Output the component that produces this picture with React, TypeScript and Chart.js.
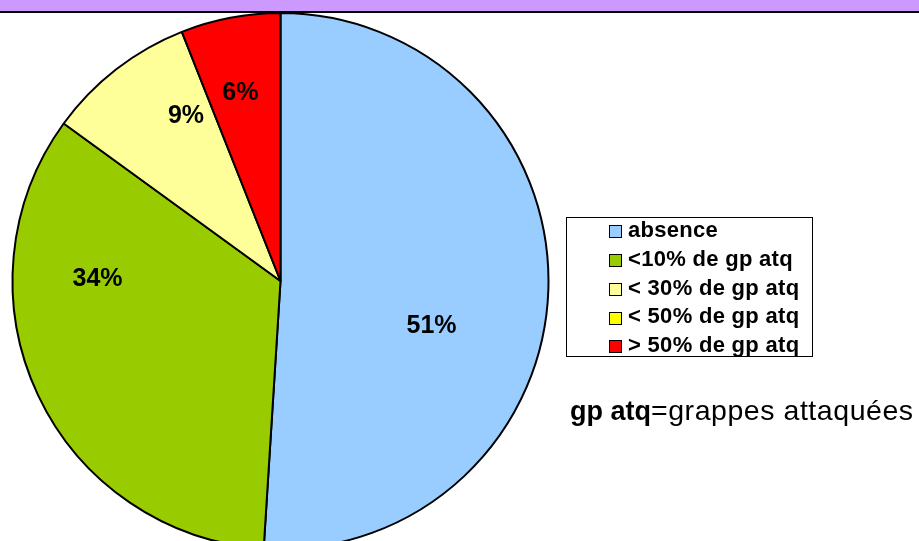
import React, { useEffect, useRef } from "react";
import { Chart, registerables } from "chart.js";

Chart.register(...registerables);

const categories = ["absence", "<10% de gp atq", "< 30% de gp atq", "< 50% de gp atq", "> 50% de gp atq"];
const values = [51, 34, 9, 0, 6];
const colors = ["#99CCFF", "#99CC00", "#FFFF99", "#FFFF00", "#FF0000"];
// label placement inside each slice (fraction along the arc, fraction of radius)
const labelAnglePos = [0.577, 0.716, 0.756, 0.5, 0.449];
const labelRadiusPos = [0.586, 0.683, 0.716, 0.7, 0.725];
const noteBold = "gp atq";
const noteRest = "=grappes attaquées";

const FONT = "'Liberation Sans', Arial, Helvetica, sans-serif";

const labelPlugin = {
  id: "sliceLabels",
  afterDatasetsDraw(chart: any) {
    const ctx = chart.ctx;
    const meta = chart.getDatasetMeta(0);
    const data = chart.data.datasets[0].data as number[];
    const total = data.reduce((a, b) => a + b, 0);
    ctx.save();
    ctx.font = `bold 25px ${FONT}`;
    ctx.fillStyle = "#000";
    ctx.textAlign = "center";
    ctx.textBaseline = "alphabetic";
    meta.data.forEach((arc: any, i: number) => {
      const v = data[i];
      if (!v) return;
      const { x, y, startAngle, endAngle, outerRadius } = arc.getProps(
        ["x", "y", "startAngle", "endAngle", "outerRadius"],
        true
      );
      const a = startAngle + (endAngle - startAngle) * labelAnglePos[i];
      const r = outerRadius * labelRadiusPos[i];
      const lx = x + r * Math.cos(a);
      const ly = y + r * Math.sin(a);
      const pct = Math.round((v / total) * 100) + "%";
      ctx.fillText(pct, lx, ly + 25 * 0.358);
    });
    ctx.restore();
  },
};

export default function App() {
  const ref = useRef<HTMLCanvasElement>(null);
  useEffect(() => {
    if (!ref.current) return;
    const chart = new Chart(ref.current, {
      type: "pie",
      data: {
        labels: categories,
        datasets: [
          {
            data: values,
            backgroundColor: colors,
            borderColor: "#000000",
            borderWidth: 2,
          },
        ],
      },
      options: {
        responsive: false,
        animation: false,
        layout: { padding: { left: 11, top: 12, right: 369, bottom: 50 } },
        plugins: {
          legend: { display: false },
          tooltip: { enabled: false },
          title: { display: false },
        },
      },
      plugins: [labelPlugin],
    });
    return () => chart.destroy();
  }, []);

  const rowH = 28.75;
  return (
    <div
      style={{
        position: "fixed",
        left: 0,
        top: 0,
        width: 919,
        height: 541,
        overflow: "hidden",
        background: "#fff",
        fontFamily: FONT,
      }}
    >
      <canvas
        ref={ref}
        width={919}
        height={600}
        style={{ position: "absolute", left: 0, top: 0, width: 919, height: 600 }}
      />
      <div
        style={{
          position: "absolute",
          left: 0,
          top: 0,
          width: 919,
          height: 11,
          background: "#CC99FF",
          borderBottom: "2px solid #000",
        }}
      />
      <div
        style={{
          position: "absolute",
          left: 566,
          top: 217,
          width: 245,
          height: 138,
          border: "1px solid #000",
          background: "#fff",
        }}
      >
        {categories.map((c, i) => (
          <div
            key={c}
            style={{
              position: "absolute",
              left: 42,
              top: -2 + i * rowH,
              height: rowH,
              lineHeight: rowH + "px",
              whiteSpace: "nowrap",
              fontWeight: "bold",
              fontSize: 22,
              letterSpacing: 0.3,
              color: "#000",
              display: "flex",
              alignItems: "center",
            }}
          >
            <span
              style={{
                display: "inline-block",
                width: 11,
                height: 11,
                border: "1px solid #000",
                background: colors[i],
                marginRight: 6,
                marginTop: 3,
              }}
            />
            <span>{c}</span>
          </div>
        ))}
      </div>
      <div
        style={{
          position: "absolute",
          left: 570,
          top: 390,
          whiteSpace: "nowrap",
          fontSize: 27,
          lineHeight: "40px",
          color: "#000",
        }}
      >
        <b>{noteBold}</b>
        <span style={{ fontSize: 28.5, letterSpacing: 0.55 }}>{noteRest}</span>
      </div>
    </div>
  );
}
